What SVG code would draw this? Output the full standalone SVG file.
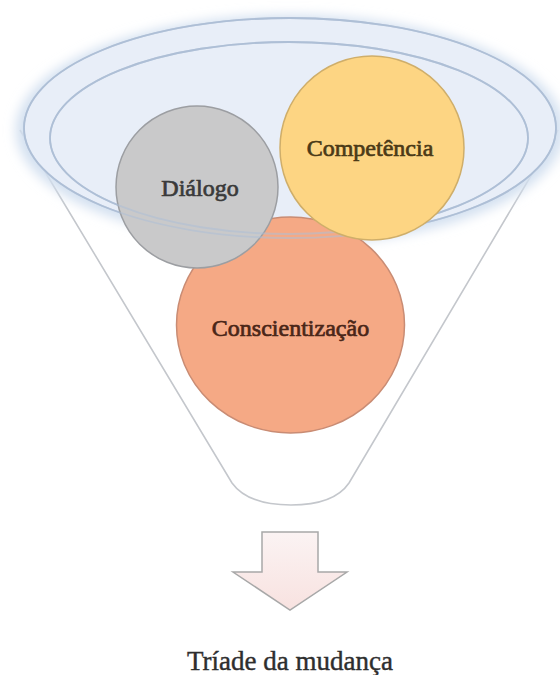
<svg xmlns="http://www.w3.org/2000/svg" width="560" height="675" viewBox="0 0 560 675">
  <defs>
    <filter id="blur" x="-10%" y="-20%" width="120%" height="140%">
      <feGaussianBlur stdDeviation="6"/>
    </filter>
    <linearGradient id="arrowFill" x1="0" y1="0" x2="0" y2="1">
      <stop offset="0" stop-color="#fbf3f3"/>
      <stop offset="1" stop-color="#f8e2e0"/>
    </linearGradient>
    <style>
      .funnel { fill: #ffffff; stroke: #c4c7cc; stroke-width: 1.6; }
      .ring { fill: none; stroke: #aebfd6; stroke-width: 1.8; }
      .lbl { font-family: "Liberation Serif", "Times New Roman", serif; font-size: 24px; text-anchor: middle; stroke-width: 0.7; }
    </style>
  </defs>

  <rect width="560" height="675" fill="#ffffff"/>

  <g id="funnel">
    <path class="funnel" d="M 20,130 L 232,483 Q 248,505 291,505 Q 334,505 349,483 L 558,130"/>
    <ellipse cx="290" cy="130" rx="274" ry="115" fill="#d3e0f0" filter="url(#blur)"/>
    <ellipse cx="290" cy="128" rx="266" ry="110" fill="#e8eef8"/>
    <ellipse class="ring" cx="290" cy="128" rx="266" ry="110" stroke="#bcc8d8"/>
    <ellipse class="ring" cx="289" cy="138" rx="239" ry="96"/>
  </g>

  <g id="conscientizacao">
    <ellipse cx="290.5" cy="325" rx="114" ry="108" fill="#f5a985" stroke="#c98c74" stroke-width="1.5"/>
    <text class="lbl" x="290.5" y="336" fill="#4a2618" stroke="#4a2618">Conscientização</text>
  </g>

  <g id="dialogo">
    <circle cx="197" cy="187" r="81" fill="#c9c9ca" stroke="#9c9ea2" stroke-width="1.5"/>
    <text class="lbl" x="200" y="196" fill="#3a3a3a" stroke="#3a3a3a">Diálogo</text>
  </g>

  <g id="rim-front" opacity="0.55">
    <ellipse class="ring" cx="290" cy="128" rx="266" ry="110"/>
    <ellipse class="ring" cx="289" cy="138" rx="239" ry="96"/>
  </g>

  <g id="competencia">
    <circle cx="372" cy="148" r="92" fill="#fdd583" stroke="#cfae6a" stroke-width="1.5"/>
    <text class="lbl" x="370" y="156" fill="#4b3a17" stroke="#4b3a17">Competência</text>
  </g>

  <g id="connectors">
    <path d="M 262,532 L 318,532 L 318,572 L 347,572 L 290,610 L 233,572 L 262,572 Z" fill="url(#arrowFill)" stroke="#a8a8a8" stroke-width="1.5" stroke-linejoin="miter"/>
  </g>

  <g id="caption">
    <text x="290" y="670" font-family="Liberation Serif, 'Times New Roman', serif" font-size="27" text-anchor="middle" fill="#2e2e2e" stroke="#2e2e2e" stroke-width="0.4">Tríade da mudança</text>
  </g>
</svg>
